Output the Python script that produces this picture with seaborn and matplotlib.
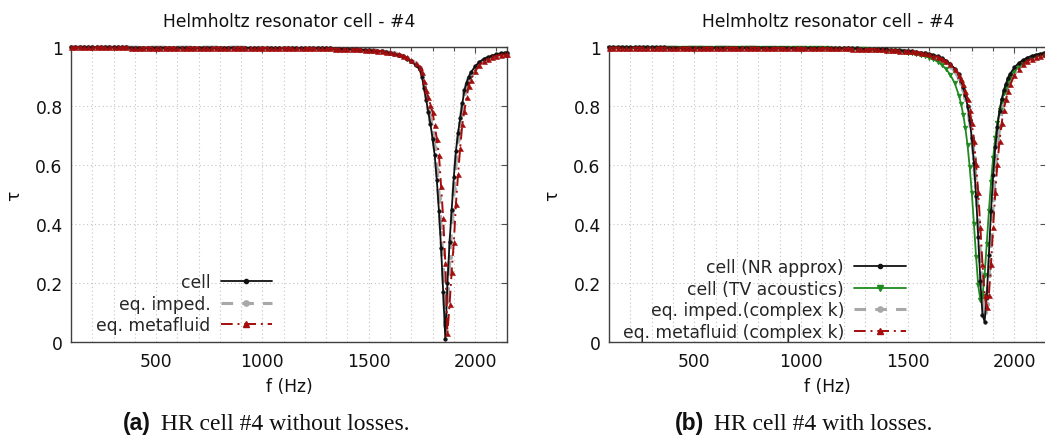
import matplotlib
matplotlib.use("Agg")
import matplotlib.pyplot as plt
import seaborn as sns
import pandas as pd
from matplotlib.ticker import FixedLocator, FixedFormatter, MultipleLocator
from matplotlib.lines import Line2D

# ---------------- data ----------------
freq = [100, 120, 140, 160, 180, 200, 220, 240, 260, 280,
        300, 320, 340, 360, 380, 400, 420, 440, 460, 480,
        500, 520, 540, 560, 580, 600, 620, 640, 660, 680,
        700, 720, 740, 760, 780, 800, 820, 840, 860, 880,
        900, 920, 940, 960, 980, 1000, 1020, 1040, 1060, 1080,
        1100, 1120, 1140, 1160, 1180, 1200, 1220, 1240, 1260, 1280,
        1300, 1320, 1340, 1360, 1380, 1400, 1420, 1440, 1460, 1480,
        1500, 1520, 1540, 1560, 1580, 1600, 1620, 1640, 1660, 1680,
        1700, 1720, 1740,
        1750, 1760, 1770, 1780, 1790, 1800, 1810, 1820, 1830, 1840, 1850, 1860,
        1870, 1880, 1890, 1900, 1910, 1920, 1930, 1940, 1950, 1960, 1970, 1980,
        2000, 2020, 2040, 2060, 2080, 2100, 2120, 2140, 2150]

# (a) without losses
tau_cell_a = [1.000, 1.000, 1.000, 1.000, 1.000, 1.000, 1.000, 1.000, 1.000, 1.000,
              1.000, 1.000, 1.000, 1.000, 0.999, 0.999, 0.999, 0.999, 0.999, 0.999,
              0.999, 0.999, 0.999, 0.999, 0.999, 0.999, 0.999, 0.999, 0.999, 0.999,
              0.999, 0.999, 0.999, 0.999, 0.999, 0.999, 0.999, 0.999, 0.999, 0.999,
              0.999, 0.999, 0.998, 0.998, 0.998, 0.998, 0.998, 0.998, 0.998, 0.998,
              0.998, 0.998, 0.997, 0.997, 0.997, 0.997, 0.997, 0.997, 0.996, 0.996,
              0.996, 0.996, 0.995, 0.995, 0.994, 0.994, 0.993, 0.993, 0.992, 0.991,
              0.990, 0.989, 0.988, 0.986, 0.984, 0.981, 0.978, 0.974, 0.969, 0.962,
              0.952, 0.940, 0.925,
              0.900, 0.862, 0.822, 0.780, 0.740, 0.690, 0.635, 0.550, 0.445, 0.320, 0.170, 0.010,
              0.200, 0.340, 0.450, 0.560, 0.650, 0.710, 0.760, 0.810, 0.855, 0.880, 0.900, 0.915,
              0.935, 0.950, 0.960, 0.967, 0.972, 0.976, 0.979, 0.981, 0.982]

tau_imped_a = [1.000, 1.000, 1.000, 1.000, 1.000, 1.000, 1.000, 1.000, 1.000, 1.000,
               1.000, 1.000, 1.000, 1.000, 0.999, 0.999, 0.999, 0.999, 0.999, 0.999,
               0.999, 0.999, 0.999, 0.999, 0.999, 0.999, 0.999, 0.999, 0.999, 0.999,
               0.999, 0.999, 0.999, 0.999, 0.999, 0.999, 0.999, 0.999, 0.999, 0.999,
               0.999, 0.999, 0.998, 0.998, 0.998, 0.998, 0.998, 0.998, 0.998, 0.998,
               0.998, 0.998, 0.997, 0.997, 0.997, 0.997, 0.997, 0.997, 0.996, 0.996,
               0.996, 0.996, 0.995, 0.995, 0.994, 0.994, 0.993, 0.993, 0.992, 0.991,
               0.991, 0.990, 0.989, 0.987, 0.985, 0.982, 0.979, 0.975, 0.970, 0.964,
               0.955, 0.944, 0.930,
               0.910, 0.875, 0.835, 0.795, 0.755, 0.710, 0.660, 0.585, 0.490, 0.370, 0.230, 0.060,
               0.140, 0.290, 0.410, 0.520, 0.620, 0.690, 0.745, 0.800, 0.845, 0.875, 0.895, 0.910,
               0.930, 0.946, 0.957, 0.965, 0.970, 0.974, 0.977, 0.980, 0.981]

tau_meta_a = [1.000, 1.000, 1.000, 1.000, 1.000, 1.000, 1.000, 1.000, 1.000, 1.000,
              1.000, 1.000, 1.000, 1.000, 0.999, 0.999, 0.999, 0.999, 0.999, 0.999,
              0.999, 0.999, 0.999, 0.999, 0.999, 0.999, 0.999, 0.999, 0.999, 0.999,
              0.999, 0.999, 0.999, 0.999, 0.999, 0.999, 0.999, 0.999, 0.999, 0.999,
              0.999, 0.999, 0.998, 0.998, 0.998, 0.998, 0.998, 0.998, 0.998, 0.998,
              0.998, 0.998, 0.997, 0.997, 0.997, 0.997, 0.997, 0.997, 0.996, 0.996,
              0.996, 0.996, 0.995, 0.995, 0.995, 0.994, 0.994, 0.993, 0.993, 0.992,
              0.991, 0.990, 0.989, 0.987, 0.985, 0.983, 0.980, 0.977, 0.972, 0.966,
              0.958, 0.948, 0.934,
              0.915, 0.885, 0.855, 0.830, 0.805, 0.780, 0.735, 0.690, 0.635, 0.530, 0.420, 0.270,
              0.030, 0.130, 0.240, 0.340, 0.470, 0.570, 0.660, 0.740, 0.785, 0.830, 0.870, 0.890,
              0.920, 0.940, 0.952, 0.961, 0.967, 0.971, 0.974, 0.976, 0.977]

# (b) with losses
tau_nr_b = [1.000, 1.000, 1.000, 1.000, 1.000, 1.000, 1.000, 1.000, 1.000, 1.000,
            1.000, 1.000, 1.000, 1.000, 0.999, 0.999, 0.999, 0.999, 0.999, 0.999,
            0.999, 0.999, 0.999, 0.999, 0.999, 0.999, 0.999, 0.999, 0.999, 0.999,
            0.999, 0.999, 0.999, 0.999, 0.999, 0.999, 0.999, 0.999, 0.999, 0.999,
            0.999, 0.999, 0.998, 0.998, 0.998, 0.998, 0.998, 0.998, 0.998, 0.998,
            0.997, 0.997, 0.997, 0.997, 0.997, 0.997, 0.996, 0.996, 0.996, 0.995,
            0.995, 0.995, 0.994, 0.994, 0.994, 0.993, 0.992, 0.991, 0.990, 0.989,
            0.988, 0.986, 0.984, 0.982, 0.980, 0.978, 0.974, 0.970, 0.964, 0.955,
            0.943, 0.928, 0.908,
            0.885, 0.864, 0.837, 0.801, 0.754, 0.691, 0.607, 0.496, 0.358, 0.208, 0.093, 0.070,
            0.154, 0.297, 0.444, 0.566, 0.661, 0.731, 0.784, 0.824, 0.854, 0.877, 0.896, 0.911,
            0.932, 0.947, 0.957, 0.965, 0.971, 0.975, 0.978, 0.980, 0.981]

tau_tv_b = [0.999, 0.999, 0.999, 0.999, 0.999, 0.999, 0.999, 0.999, 0.999, 0.999,
            0.999, 0.999, 0.999, 0.999, 0.999, 0.999, 0.999, 0.999, 0.999, 0.999,
            0.999, 0.999, 0.999, 0.999, 0.999, 0.999, 0.999, 0.999, 0.999, 0.999,
            0.998, 0.998, 0.998, 0.998, 0.998, 0.998, 0.998, 0.998, 0.998, 0.998,
            0.998, 0.998, 0.997, 0.997, 0.997, 0.997, 0.997, 0.996, 0.996, 0.996,
            0.996, 0.996, 0.995, 0.995, 0.995, 0.995, 0.994, 0.994, 0.993, 0.993,
            0.993, 0.992, 0.991, 0.990, 0.990, 0.989, 0.988, 0.987, 0.986, 0.984,
            0.982, 0.980, 0.977, 0.974, 0.970, 0.965, 0.959, 0.951, 0.940, 0.926,
            0.906, 0.878, 0.836,
            0.807, 0.771, 0.725, 0.668, 0.595, 0.506, 0.401, 0.290, 0.194, 0.143, 0.157, 0.229,
            0.334, 0.444, 0.543, 0.626, 0.692, 0.745, 0.786, 0.819, 0.846, 0.867, 0.885, 0.899,
            0.921, 0.936, 0.948, 0.957, 0.963, 0.969, 0.973, 0.976, 0.978]

tau_imped_b = [0.999, 0.999, 0.999, 0.999, 0.999, 0.999, 0.999, 0.999, 0.999, 0.999,
               0.999, 0.999, 0.999, 0.999, 0.999, 0.999, 0.999, 0.999, 0.999, 0.999,
               0.999, 0.999, 0.999, 0.999, 0.999, 0.999, 0.999, 0.999, 0.999, 0.999,
               0.999, 0.999, 0.999, 0.999, 0.999, 0.998, 0.998, 0.998, 0.998, 0.998,
               0.998, 0.998, 0.998, 0.998, 0.998, 0.998, 0.997, 0.997, 0.997, 0.997,
               0.997, 0.997, 0.996, 0.996, 0.996, 0.996, 0.996, 0.995, 0.995, 0.995,
               0.995, 0.994, 0.994, 0.993, 0.993, 0.992, 0.991, 0.990, 0.989, 0.988,
               0.987, 0.985, 0.984, 0.981, 0.979, 0.975, 0.971, 0.966, 0.959, 0.950,
               0.938, 0.921, 0.896,
               0.880, 0.859, 0.833, 0.799, 0.755, 0.699, 0.625, 0.529, 0.411, 0.280, 0.163, 0.102,
               0.129, 0.229, 0.360, 0.485, 0.589, 0.671, 0.734, 0.783, 0.820, 0.849, 0.872, 0.890,
               0.917, 0.935, 0.948, 0.958, 0.965, 0.970, 0.975, 0.978, 0.979]

tau_meta_b = [0.999, 0.999, 0.999, 0.999, 0.999, 0.999, 0.999, 0.999, 0.999, 0.999,
              0.999, 0.999, 0.999, 0.999, 0.999, 0.999, 0.999, 0.999, 0.999, 0.999,
              0.999, 0.999, 0.999, 0.999, 0.999, 0.999, 0.999, 0.999, 0.999, 0.999,
              0.999, 0.999, 0.999, 0.999, 0.999, 0.998, 0.998, 0.998, 0.998, 0.998,
              0.998, 0.998, 0.998, 0.998, 0.998, 0.998, 0.997, 0.997, 0.997, 0.997,
              0.997, 0.997, 0.996, 0.996, 0.996, 0.996, 0.996, 0.995, 0.995, 0.995,
              0.995, 0.994, 0.994, 0.993, 0.993, 0.992, 0.991, 0.990, 0.989, 0.988,
              0.987, 0.986, 0.984, 0.982, 0.979, 0.976, 0.972, 0.968, 0.961, 0.953,
              0.942, 0.927, 0.906,
              0.892, 0.874, 0.852, 0.824, 0.789, 0.743, 0.683, 0.606, 0.508, 0.391, 0.265, 0.161,
              0.120, 0.161, 0.265, 0.391, 0.508, 0.606, 0.683, 0.743, 0.789, 0.824, 0.852, 0.874,
              0.906, 0.927, 0.942, 0.953, 0.961, 0.968, 0.972, 0.976, 0.978]

labels_a = ["cell", "eq. imped.", "eq. metafluid"]
labels_b = ["cell (NR approx)", "cell (TV acoustics)", "eq. imped.(complex k)",
            "eq. metafluid (complex k)"]
xtick_vals = [500, 1000, 1500, 2000]
xtick_labels = ["500", "1000", "1500", "2000"]
ytick_vals = [0, 0.2, 0.4, 0.6, 0.8, 1.0]
ytick_labels = ["0", "0.2", "0.4", "0.6", "0.8", "1"]
title_text = "Helmholtz resonator cell - #4"
caption_a = ("(a)", " HR cell #4 without losses.")
caption_b = ("(b)", " HR cell #4 with losses.")

# ---------------- styles ----------------
BLACK = "#111111"
GRAY = "#a8a8a8"
RED = "#a30d0d"
GREEN = "#1f8a1f"

style = {
    "cell": dict(color=BLACK, lw=1.3, ls="-", marker="o", ms=2.6, z=4),
    "imped": dict(color=GRAY, lw=2.8, ls=(0, (3.8, 3.0)), marker="o", ms=3.4, z=2),
    "meta": dict(color=RED, lw=1.4, ls=(0, (6, 2.5, 1, 2.5)), marker="^", ms=3.6, z=5),
    "tv": dict(color=GREEN, lw=1.3, ls="-", marker="v", ms=3.4, z=3),
}

sns.set_theme(style="white")
plt.rcParams["font.family"] = ["DejaVu Sans"]

W, H = 1045, 439
fig = plt.figure(figsize=(W / 100, H / 100), dpi=100)
ax_top, ax_bot = 48.3, 343.3
axA = fig.add_axes([71 / W, (H - ax_bot) / H, 436 / W, (ax_bot - ax_top) / H])
axB = fig.add_axes([609 / W, (H - ax_bot) / H, 437.5 / W, (ax_bot - ax_top) / H])


def draw(ax, y, key, label):
    s = style[key]
    df = pd.DataFrame({"f": freq, "tau": y})
    sns.lineplot(data=df, x="f", y="tau", ax=ax, color=s["color"], linewidth=s["lw"],
                 linestyle=s["ls"], marker=s["marker"], markersize=s["ms"],
                 markeredgecolor=s["color"], markerfacecolor=s["color"],
                 markeredgewidth=0.4, errorbar=None, zorder=s["z"], clip_on=False,
                 label=label, legend=False)
    return Line2D([], [], color=s["color"], linewidth=min(s["lw"], 2.2), linestyle=s["ls"],
                  marker=s["marker"], markersize=s["ms"] + 0.4,
                  markeredgecolor=s["color"], markerfacecolor=s["color"])


hA = [draw(axA, tau_cell_a, "cell", labels_a[0]),
      draw(axA, tau_imped_a, "imped", labels_a[1]),
      draw(axA, tau_meta_a, "meta", labels_a[2])]

hB = [draw(axB, tau_nr_b, "cell", labels_b[0]),
      draw(axB, tau_tv_b, "tv", labels_b[1]),
      draw(axB, tau_imped_b, "imped", labels_b[2]),
      draw(axB, tau_meta_b, "meta", labels_b[3])]

FS = 12.3
for ax in (axA, axB):
    ax.set_xlim(100, 2150)
    ax.set_ylim(0, 1)
    ax.xaxis.set_major_locator(FixedLocator(xtick_vals))
    ax.xaxis.set_major_formatter(FixedFormatter(xtick_labels))
    ax.xaxis.set_minor_locator(MultipleLocator(100))
    ax.yaxis.set_major_locator(FixedLocator(ytick_vals))
    ax.yaxis.set_major_formatter(FixedFormatter(ytick_labels))
    ax.grid(True, which="both", axis="x", linestyle=(0, (1, 2.5)), color="#c4c4c4", lw=0.8)
    ax.grid(True, which="major", axis="y", linestyle=(0, (1, 2.5)), color="#c4c4c4", lw=0.8)
    ax.set_axisbelow(True)
    ax.tick_params(which="both", direction="in", top=True, right=True, color="#505050",
                   labelcolor="#111111", labelsize=FS)
    ax.tick_params(which="major", length=4.5, width=0.8)
    ax.tick_params(which="minor", length=3.0, width=0.8)
    ax.tick_params(axis="x", which="both", pad=7)
    ax.tick_params(axis="y", which="both", pad=6)
    for sp in ax.spines.values():
        sp.set_color("#404040")
        sp.set_linewidth(1.0)
        sp.set_visible(True)
    ax.set_title(title_text, fontsize=FS, pad=15, color="#111111")
    ax.set_xlabel("f (Hz)", fontsize=FS, labelpad=5, color="#111111")
    ax.set_ylabel("τ", fontsize=FS, labelpad=9, color="#111111")

legkw = dict(markerfirst=False, frameon=False, handlelength=3.0, handletextpad=0.6,
             labelspacing=0.2, borderaxespad=0, borderpad=0, fontsize=FS, numpoints=1,
             loc="lower right")
axA.legend(handles=hA, labels=labels_a, bbox_to_anchor=(0.461, 0.028), **legkw)
axB.legend(handles=hB, labels=labels_b, bbox_to_anchor=(0.678, 0.006), **legkw)

# captions
base_y = (H - 430) / H
fig.text(123 / W, base_y, caption_a[0], fontsize=16.5, fontweight="bold",
         family=["Liberation Sans"], va="baseline", ha="left", color="#111111")
fig.text(155 / W, base_y, caption_a[1], fontsize=17, family=["Liberation Serif"],
         va="baseline", ha="left", color="#111111")
fig.text(675 / W, base_y, caption_b[0], fontsize=16.5, fontweight="bold",
         family=["Liberation Sans"], va="baseline", ha="left", color="#111111")
fig.text(708 / W, base_y, caption_b[1], fontsize=17, family=["Liberation Serif"],
         va="baseline", ha="left", color="#111111")

fig.savefig("out.png", dpi=100)
